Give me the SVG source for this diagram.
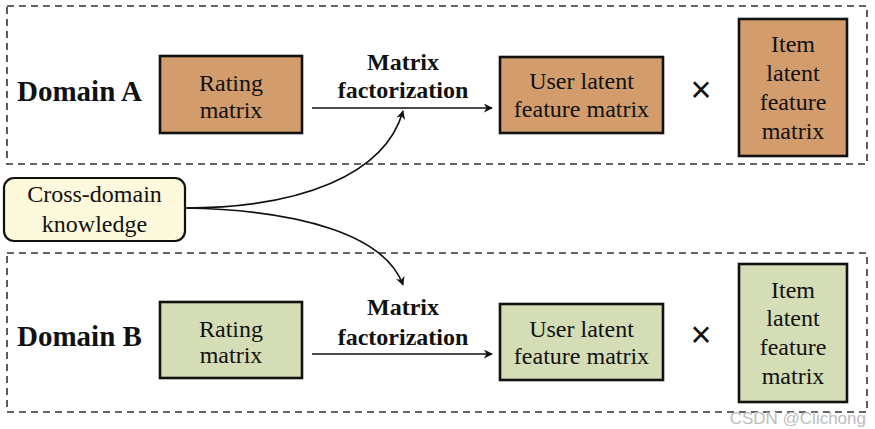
<svg xmlns="http://www.w3.org/2000/svg" width="875" height="429" viewBox="0 0 875 429">
<defs>
<style>
.dom{fill:none;stroke:#333;stroke-width:1.6;stroke-dasharray:7 5}
.a{fill:#d29c6c;stroke:#111;stroke-width:2.6}
.b{fill:#d4ddb6;stroke:#111;stroke-width:2.6}
.k{fill:#fdf9dc;stroke:#111;stroke-width:2.2}
.t{font-family:"Liberation Serif","Times New Roman",serif;font-size:24px;fill:#111;text-anchor:middle}
.bt{font-family:"Liberation Serif","Times New Roman",serif;font-size:24px;font-weight:bold;fill:#111;text-anchor:middle}
.dt{font-family:"Liberation Serif","Times New Roman",serif;font-size:29px;font-weight:bold;fill:#111}
.x{font-family:"Liberation Sans",Arial,sans-serif;font-size:36px;fill:#111;text-anchor:middle}
.ln{fill:none;stroke:#111;stroke-width:1.6}
</style>
<marker id="ah" viewBox="0 0 10 10" refX="9" refY="5" markerWidth="9" markerHeight="9" markerUnits="userSpaceOnUse" orient="auto">
<path d="M0,0 L10,5 L0,10 L3,5 Z" fill="#111"/>
</marker>
</defs>
<rect width="875" height="429" fill="#fff"/>
<g id="domainA">
<rect class="dom" x="7" y="6" width="860" height="158"/>
<text class="dt" x="17" y="101">Domain A</text>
</g>
<g id="domainB">
<rect class="dom" x="7" y="253" width="860" height="159"/>
<text class="dt" x="17" y="346">Domain B</text>
</g>
<g id="ratingA">
<rect class="a" x="160" y="56" width="142" height="77"/>
<text class="t" x="231" y="91">Rating</text>
<text class="t" x="231" y="118">matrix</text>
</g>
<g id="mfA">
<text class="bt" x="403" y="70">Matrix</text>
<text class="bt" x="403" y="98">factorization</text>
</g>
<g id="userA">
<rect class="a" x="500" y="57" width="163" height="76"/>
<text class="t" x="581.5" y="89">User latent</text>
<text class="t" x="581.5" y="117">feature matrix</text>
</g>
<g id="timesA"><text class="x" x="701" y="102">×</text></g>
<g id="itemA">
<rect class="a" x="739" y="19" width="108" height="137"/>
<text class="t" x="793" y="52">Item</text>
<text class="t" x="793" y="81">latent</text>
<text class="t" x="793" y="110">feature</text>
<text class="t" x="793" y="139">matrix</text>
</g>
<g id="knowledge">
<rect class="k" x="4" y="178" width="181" height="63" rx="10"/>
<text class="t" x="94.5" y="202">Cross-domain</text>
<text class="t" x="94.5" y="232">knowledge</text>
</g>
<g id="ratingB">
<rect class="b" x="160" y="302" width="142" height="76"/>
<text class="t" x="231" y="337">Rating</text>
<text class="t" x="231" y="363">matrix</text>
</g>
<g id="mfB">
<text class="bt" x="403" y="315">Matrix</text>
<text class="bt" x="403" y="345">factorization</text>
</g>
<g id="userB">
<rect class="b" x="500" y="304" width="163" height="76"/>
<text class="t" x="581.5" y="337">User latent</text>
<text class="t" x="581.5" y="364">feature matrix</text>
</g>
<g id="timesB"><text class="x" x="701" y="347">×</text></g>
<g id="itemB">
<rect class="b" x="739" y="264" width="108" height="138"/>
<text class="t" x="793" y="298">Item</text>
<text class="t" x="793" y="326">latent</text>
<text class="t" x="793" y="355">feature</text>
<text class="t" x="793" y="384">matrix</text>
</g>
<g id="connectors">
<path class="ln" d="M312,108 L492,108" marker-end="url(#ah)"/>
<path class="ln" d="M312,354 L492,354" marker-end="url(#ah)"/>
<path class="ln" d="M185,208 C300,208 385,175 403,111" marker-end="url(#ah)"/>
<path class="ln" d="M185,208 C300,210 385,235 403,285" marker-end="url(#ah)"/>
</g>
<text x="866" y="424" font-family="'Liberation Sans',Arial,sans-serif" font-size="17" fill="#bdbdbd" text-anchor="end">CSDN @Clichong</text>
</svg>
